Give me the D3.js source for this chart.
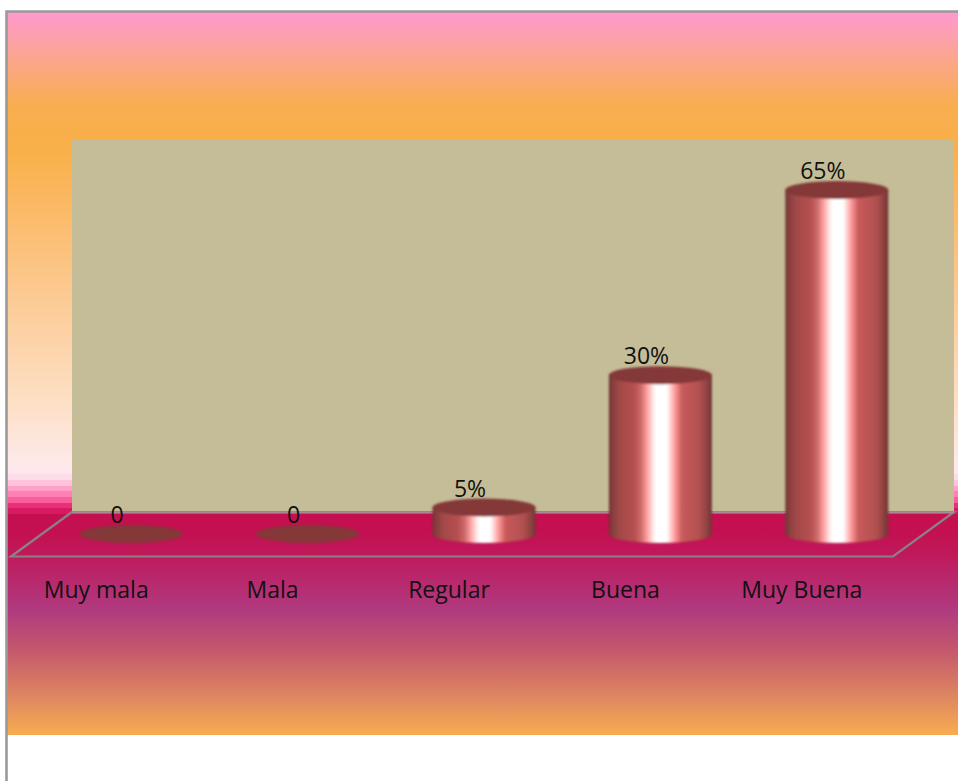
<!DOCTYPE html>
<html><head><meta charset="utf-8">
<script src="https://cdn.jsdelivr.net/npm/d3@7"></script>
<style>html,body{margin:0;padding:0;background:#fff;overflow:hidden}svg{display:block}text{font-family:"Open Sans",sans-serif;fill:#111}</style>
</head><body><div id="c"></div>
<script>
const categories=["Muy mala","Mala","Regular","Buena","Muy Buena"];
const values=[0,0,5,30,65];
const valueLabels=["0","0","5%","30%","65%"];
const bgStops=[[12,"#ff99cc"],[24,"#fe9cbf"],[60,"#fba68c"],[105,"#f8ae50"],[150,"#f8b048"],[200,"#fbb862"],[300,"#fccb95"],[400,"#fddfc4"],[462,"#fee9e9"],[474,"#fee6ee"],[474,"#fddcea"],[480,"#fddcea"],[480,"#ffc4dc"],[486,"#ffc4dc"],[486,"#ffa0c8"],[491,"#ffa0c8"],[491,"#ff80b4"],[497,"#ff80b4"],[497,"#fb5c9c"],[503,"#fb5c9c"],[503,"#e8307a"],[508,"#e8307a"],[508,"#d81a60"],[514,"#d81a60"],[514,"#c40f50"],[530,"#c40f50"],[556,"#bf1a5c"],[610,"#b03a80"],[650,"#c4586c"],[700,"#e08a60"],[735,"#f8ac50"]];
const cylStops=[[0,"#703535"],[4,"#8a3f3f"],[11,"#a34949"],[25,"#b85050"],[31,"#cc6a6a"],[37,"#ff9f9f"],[43,"#ffeaea"],[46,"#ffffff"],[56,"#ffffff"],[59,"#ffdcdc"],[64,"#ff9a9a"],[71,"#c85a5a"],[88,"#b25050"],[95,"#914242"],[100,"#703535"]];

const W=958,H=781;
const svg=d3.select("#c").append("svg").attr("width",W).attr("height",H);
const defs=svg.append("defs");
const bg=defs.append("linearGradient").attr("id","bg").attr("gradientUnits","userSpaceOnUse").attr("x1",0).attr("x2",0).attr("y1",12).attr("y2",735);
bg.selectAll("stop").data(bgStops).join("stop").attr("offset",d=>(d[0]-12)/723).attr("stop-color",d=>d[1]);
const cg=defs.append("linearGradient").attr("id","cyl");
cg.selectAll("stop").data(cylStops).join("stop").attr("offset",d=>d[0]+"%").attr("stop-color",d=>d[1]);
defs.append("filter").attr("id","soft").attr("x","-5%").attr("y","-5%").attr("width","110%").attr("height","110%")
  .append("feGaussianBlur").attr("stdDeviation",0.9);

const x=d3.scaleBand().domain(categories).range([43,925]);
const y=d3.scaleLinear().domain([0,65]).range([534,190]);
const rx=51.5,ry=9;

// frame and background
svg.append("rect").attr("x",7).attr("y",12).attr("width",W-7).attr("height",723).attr("fill","url(#bg)");
svg.append("path").attr("d",`M6.5,${H}V11.5H${W}`).attr("fill","none").attr("stroke","#9a9a9a").attr("stroke-width",2.6);

// back wall and floor outline
svg.append("rect").attr("x",72).attr("y",140).attr("width",882).attr("height",372).attr("fill","#c4bd97");
svg.append("path").attr("d","M72,512L11,556.5H893L954,512Z").attr("fill","none").attr("stroke","#8c8088").attr("stroke-width",2.2);
svg.append("line").attr("x1",72).attr("x2",954).attr("y1",512.5).attr("y2",512.5).attr("stroke","#a88a90").attr("stroke-width",2);

// cylinders
const g=svg.append("g").attr("filter","url(#soft)");
const row=categories.map((c,i)=>({c,v:values[i],l:valueLabels[i]}));
g.selectAll("path.body").data(row.filter(d=>d.v>0)).join("path").attr("class","body")
 .attr("fill","url(#cyl)")
 .attr("d",d=>{const cx=x(d.c)+x.bandwidth()/2,t=y(d.v),b=y(0);
   return `M${cx-rx},${t}V${b}A${rx},${ry} 0 0 0 ${cx+rx},${b}V${t}Z`;});
g.selectAll("ellipse").data(row).join("ellipse")
 .attr("cx",d=>x(d.c)+x.bandwidth()/2).attr("cy",d=>y(d.v)).attr("rx",rx).attr("ry",ry)
 .attr("fill","#843737");

// value labels
svg.selectAll("text.v").data(row).join("text").attr("class","v")
 .attr("x",d=>x(d.c)+x.bandwidth()/2-14).attr("y",d=>y(d.v)-11)
 .attr("text-anchor","middle").attr("font-size",23).text(d=>d.l);

// category axis
const ax=svg.append("g").attr("transform","translate(-35,582)").call(d3.axisBottom(x).tickSize(0).tickPadding(0));
ax.select(".domain").remove();
ax.selectAll("text").attr("font-size",23).attr("font-family","'Open Sans',sans-serif").attr("fill","#111").attr("dy","0.71em");
</script></body></html>
